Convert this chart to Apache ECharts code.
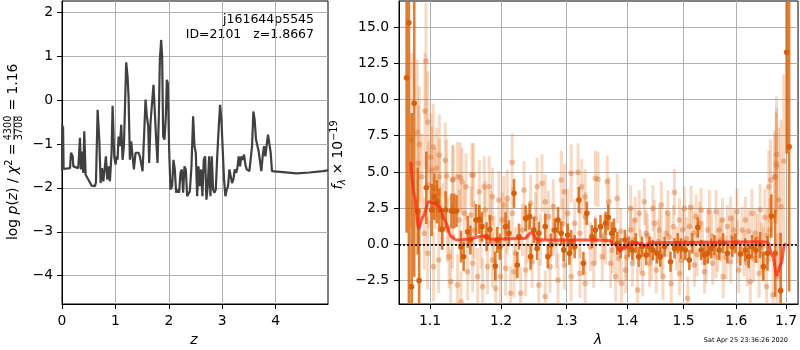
<!DOCTYPE html>
<html>
<head>
<meta charset="utf-8">
<script src="https://cdn.jsdelivr.net/npm/echarts@6/dist/echarts.min.js"></script>
<style>
html, body { margin: 0; padding: 0; background: #fff; }
#chart { width: 800px; height: 350px; }
</style>
</head>
<body>
<div id="chart"></div>
<script>
// left panel: log p(z)
var zGrid = [0.000, 0.005, 0.012, 0.020, 0.030, 0.056, 0.15, 0.168, 0.20, 0.212,
  0.243, 0.305, 0.336, 0.355, 0.374, 0.399, 0.417, 0.442, 0.492, 0.555,
  0.617, 0.636, 0.667, 0.698, 0.723, 0.748, 0.773, 0.798, 0.822, 0.847,
  0.872, 0.897, 0.928, 0.947, 0.978, 1.003, 1.022, 1.040, 1.059, 1.084,
  1.109, 1.134, 1.159, 1.202, 1.227, 1.246, 1.271, 1.296, 1.321, 1.346,
  1.377, 1.408, 1.433, 1.458, 1.483, 1.508, 1.539, 1.564, 1.589, 1.614,
  1.632, 1.657, 1.688, 1.713, 1.738, 1.763, 1.788, 1.813, 1.832, 1.857,
  1.875, 1.894, 1.919, 1.944, 1.963, 1.981, 2.006, 2.031, 2.062, 2.087,
  2.112, 2.137, 2.162, 2.193, 2.218, 2.243, 2.268, 2.293, 2.318, 2.343,
  2.368, 2.393, 2.424, 2.455, 2.480, 2.505, 2.530, 2.555, 2.579, 2.604,
  2.629, 2.654, 2.679, 2.704, 2.729, 2.754, 2.779, 2.804, 2.829, 2.854,
  2.879, 2.903, 2.935, 2.960, 2.984, 3.009, 3.034, 3.059, 3.084, 3.109,
  3.134, 3.159, 3.184, 3.209, 3.234, 3.259, 3.283, 3.308, 3.333, 3.358,
  3.383, 3.408, 3.433, 3.458, 3.508, 3.533, 3.558, 3.583, 3.607, 3.632,
  3.657, 3.682, 3.707, 3.732, 3.757, 3.782, 3.807, 3.832, 3.857, 3.882,
  3.907, 3.931, 4.137, 4.386, 4.636, 4.885, 4.98];
var logPz = [-1.60, -0.55, -1.58, -0.60, -1.57, -1.58, -1.55, -1.20, -1.28, -1.51,
  -1.55, -1.55, -0.86, -1.58, -1.17, -1.66, -0.71, -1.70, -1.81, -1.95,
  -1.96, -1.87, -0.22, -0.90, -1.89, -1.55, -1.85, -1.58, -1.28, -1.81,
  -1.51, -1.85, -1.20, -0.13, -1.28, -1.47, -1.28, -1.36, -0.83, -1.05,
  -0.56, -1.36, -1.05, 0.86, 0.54, 0.08, -1.36, -0.94, -1.28, -1.58,
  -1.20, -1.17, -1.20, -1.28, -1.24, -1.62, -0.75, 0.01, -0.37, -0.60,
  -1.43, -0.52, -0.56, 0.35, 0.31, -0.90, -1.43, -0.37, 0.92, 1.37,
  0.99, -0.83, -0.90, -0.37, 0.46, 0.39, -1.13, -2.04, -1.96, -1.36,
  -1.58, -2.11, -2.04, -2.11, -1.66, -1.58, -2.11, -1.51, -1.58, -2.19,
  -2.19, -2.08, -1.51, -0.37, -1.05, -1.20, -2.19, -1.51, -1.96, -1.58,
  -2.19, -1.36, -1.28, -2.27, -1.96, -1.28, -2.19, -1.28, -2.04, -2.11,
  -2.04, -1.36, -0.60, -0.11, -0.45, -1.13, -1.81, -2.19, -2.04, -1.96,
  -1.58, -1.55, -1.89, -1.81, -1.58, -1.66, -1.55, -1.28, -1.51, -1.28,
  -1.36, -1.24, -1.47, -1.58, -1.62, -1.58, -1.05, -0.26, -0.45, -0.90,
  -0.90, -1.17, -1.20, -1.62, -1.28, -1.05, -1.28, -1.02, -0.79, -0.79,
  -1.20, -1.62, -1.64, -1.67, -1.65, -1.62, -1.60];
var zTicks = [0, 1, 2, 3, 4];
var lpTicks = [-4, -3, -2, -1, 0, 1, 2];

// right panel: spectrum
var lamTicks = [1.1, 1.2, 1.3, 1.4, 1.5, 1.6, 1.7];
var fluxTicks = [-2.5, 0, 2.5, 5, 7.5, 10, 12.5, 15];

// faint (other PA) points
var lamFaint = [1.0946, 1.0933, 1.0969, 1.0831, 1.0857, 1.1044, 1.1013, 1.1126, 1.0844, 1.1207, 1.109, 1.1579, 1.2163, 1.1415, 1.1227, 1.1317, 1.3184, 1.0752,
  1.0889, 1.0978, 1.1024, 1.1071, 1.1127, 1.1307, 1.1377, 1.1439, 1.1495, 1.1599, 1.1684, 1.1755, 1.1825, 1.1873, 1.1967, 1.204, 1.209, 1.234, 1.244, 1.254, 1.2615, 1.2665, 1.279, 1.2915, 1.2965, 1.3073, 1.3242, 1.3298, 1.3466, 1.351,
  1.0969, 1.1047, 1.1118, 1.1259, 1.1283, 1.1377, 1.1425, 1.1519, 1.159, 1.166, 1.1731, 1.1802, 1.1873, 1.192, 1.199, 1.2065, 1.214, 1.219, 1.229, 1.2365, 1.2465, 1.2565, 1.2665, 1.274, 1.2865, 1.2965, 1.3073, 1.3213, 1.3298, 1.3438,
  1.0924, 1.1165, 1.1236, 1.1307, 1.1401, 1.1472, 1.1566, 1.1613, 1.1708, 1.1769, 1.1849, 1.1896, 1.2015, 1.209, 1.2165, 1.2215, 1.2315, 1.239, 1.2515, 1.259, 1.2715, 1.279, 1.284, 1.294, 1.3017, 1.3129, 1.3213, 1.3298, 1.3382, 1.3466,
  1.3663, 1.3691, 1.3831, 1.406, 1.4208, 1.4298, 1.4446, 1.4595, 1.4714, 1.4833, 1.4923, 1.5013, 1.5138, 1.5231, 1.5325, 1.5481, 1.5606, 1.5731, 1.5888, 1.6013, 1.6176, 1.6307, 1.6471, 1.6569, 1.6647, 1.6686, 1.6765, 1.6797, 1.6804, 1.6807, 1.6955, 1.6781, 1.685,
  1.3579, 1.3635, 1.3719, 1.3803, 1.386, 1.3904, 1.3972, 1.406, 1.4089, 1.4137, 1.4179, 1.4268, 1.4327, 1.4387, 1.4476, 1.4506, 1.4565, 1.4625, 1.4685, 1.4774,
  1.4815, 1.4923, 1.4982, 1.5075, 1.5106, 1.52, 1.5294, 1.5388, 1.545, 1.5544, 1.5606, 1.5669, 1.5744, 1.5825, 1.5888, 1.595, 1.6046, 1.6111, 1.6209, 1.6275,
  1.6373, 1.6451, 1.6536, 1.6601, 1.6667, 1.6732, 1.6817, 1.6895,
  1.361, 1.375, 1.389, 1.399, 1.411, 1.423, 1.435, 1.442, 1.454, 1.46, 1.474, 1.487, 1.496, 1.505, 1.518,
  1.525, 1.535, 1.542, 1.552, 1.564, 1.57, 1.58, 1.592, 1.602, 1.615, 1.624, 1.634, 1.642, 1.65, 1.662];
var fluxFaint = [12.66, 9.2, 8.45, 7.73, 6.9, 6.72, 6.03, 6.15, 5.59, 5.8, 5.25, 4.79, 5.66, 4.63, 4.72, 4.49, 4.97, 7.2,
  4.67, 4.1, 5.13, 3.86, 4.67, 4.44, 4.67, 4.33, 3.98, 4.78, 3.63, 3.98, 3.98, 3.29, 3.06, 2.72, 3.17, 3.75, 2.83, 3.98, 4.21, 2.94, 2.6, 4.44, 3.63, 4.9, 3.98, 3.29, 4.56, 4.49,
  -0.62, -1.54, -1.08, -0.85, -2.58, -2.8, -3.96, -1.89, -1.31, -2.23, -2.92, -1.54, -1.08, -3.04, -2.23, -1.66, -3.38, -1.89, -3.38, -1.77, -1.2, -2.81, -3.61, -1.54, -2.46, -1.43, -2.23, -2.0, -2.7, -1.31,
  0.76, 1.91, 0.99, 0.53, 1.68, 2.14, 2.02, 0.99, 0.3, 2.37, 1.79, 0.07, 1.68, 1.22, 2.14, -0.62, 0.99, 0.53, 1.79, 0.3, 1.91, 0.99, 0.07, 1.45, 2.14, 1.45, 0.76, 1.91, -0.16, 0.3,
  4.33, 2.94, 3.17, 2.48, 2.14, 2.94, 2.48, 2.72, 2.14, 3.59, 1.68, 2.48, 2.55, 1.91, 2.37, 2.25, 2.25, 1.68, 1.79, 2.25, 1.68, 2.14, 2.37, 1.86, 3.98, 4.44, 4.67, 5.59, 6.21, 5.39, 5.75, 4.63, 3.06,
  -0.85, 0.3, -1.31, -2.23, -0.97, -2.7, -1.77, 0.99, -1.31, 1.68, -3.15, -2.0, 0.76, -1.31, 1.45, -1.77, 0.99, -2.23, 0.76, -2.7,
  1.22, -2.0, 0.99, -3.73, 1.22, -1.43, 1.45, -1.89, 0.99, -1.31, -0.85, 0.99, -2.23, 1.22, -1.2, 0.99, -1.77, 0.99, -1.31, -2.58,
  0.76, -2.0, -0.62, -2.92, 0.99, -3.5, -2.23, 2.6,
  0.5, -0.4, 0.9, -0.9, 0.3, -0.5, 0.6, -1.0, 0.2, -0.6, 0.5, -0.3, -1.1, 0.4, 0.8,
  -0.7, 0.1, -1.2, 0.6, -0.4, 0.3, -0.9, 0.5, 0.2, -0.6, 0.9, -1.0, 0.4, -0.2, 0.6];
var errFaint = [4, 4, 3.5, 5, 4, 3, 3, 2.8, 4, 2.6, 2.8, 2.2, 2, 2.4, 2.5, 2.4, 2, 6,
  3, 3, 3, 2.8, 2.6, 2.4, 2.4, 2.3, 2.3, 2.2, 2.2, 2.1, 2.1, 2, 2, 2, 2, 2, 2, 2, 2, 1.9, 1.9, 2, 1.9, 2, 1.9, 1.9, 1.9, 1.9,
  2.5, 2.4, 2.3, 2.2, 2.2, 2.1, 2.1, 2, 2, 2, 2, 1.9, 1.9, 1.9, 1.9, 1.9, 1.9, 1.8, 1.8, 1.8, 1.8, 1.8, 1.8, 1.8, 1.8, 1.7, 1.7, 1.7, 1.7, 1.7,
  2.5, 2.3, 2.2, 2.2, 2.1, 2.1, 2, 2, 2, 2, 1.9, 1.9, 1.9, 1.9, 1.8, 1.8, 1.8, 1.8, 1.8, 1.8, 1.8, 1.8, 1.7, 1.7, 1.7, 1.7, 1.7, 1.7, 1.7, 1.7,
  1.8, 1.7, 1.7, 1.6, 1.6, 1.6, 1.6, 1.6, 1.6, 1.6, 1.5, 1.5, 1.5, 1.5, 1.5, 1.5, 1.5, 1.5, 1.5, 1.6, 1.6, 1.7, 1.8, 2, 2.5, 2.8, 3.2, 3.5, 4, 4, 6, 3, 5,
  1.7, 1.7, 1.7, 1.7, 1.7, 1.6, 1.6, 1.6, 1.6, 1.6, 1.6, 1.6, 1.6, 1.6, 1.6, 1.6, 1.6, 1.6, 1.6, 1.6,
  1.5, 1.5, 1.5, 1.5, 1.5, 1.5, 1.5, 1.5, 1.5, 1.5, 1.5, 1.5, 1.5, 1.5, 1.5, 1.5, 1.6, 1.6, 1.6, 1.6,
  1.7, 1.7, 1.8, 2, 2.2, 2.5, 3, 6,
  1.6, 1.6, 1.6, 1.6, 1.5, 1.5, 1.5, 1.5, 1.5, 1.5, 1.5, 1.5, 1.5, 1.5, 1.5,
  1.5, 1.5, 1.5, 1.5, 1.5, 1.5, 1.5, 1.5, 1.5, 1.6, 1.6, 1.6, 1.7, 1.7, 1.9];

// bold points
var lamDark = [1.069, 1.072, 1.0756, 1.079, 1.0855, 1.0836, 1.095, 1.1024, 1.1057, 1.1094,
  1.1127, 1.1165, 1.1212, 1.1292, 1.133, 1.1363, 1.1425, 1.1462, 1.1519, 1.1557,
  1.1637, 1.1684, 1.1722, 1.1788, 1.1835, 1.1915, 1.1943, 1.1981, 1.2065, 1.2115,
  1.219, 1.224, 1.2265, 1.2365, 1.2425, 1.244, 1.249, 1.254, 1.2565, 1.2665,
  1.2705, 1.2755, 1.2815, 1.2865, 1.2915, 1.2955, 1.3017, 1.3045, 1.3073, 1.3129,
  1.3197, 1.327, 1.3326, 1.341, 1.3466, 1.355, 1.3635, 1.368, 1.3736, 1.3775,
  1.3831, 1.3888, 1.3961, 1.403, 1.4089, 1.4149, 1.4196, 1.4256, 1.4327, 1.4387,
  1.4446, 1.4518, 1.4577, 1.4655, 1.4762, 1.4833, 1.4893, 1.4952, 1.5031, 1.5106,
  1.5156, 1.5263, 1.5325, 1.5388, 1.545, 1.5513, 1.5575, 1.5669, 1.5744, 1.5825,
  1.5919, 1.5981, 1.6078, 1.6176, 1.6242, 1.6307, 1.6386, 1.6471, 1.6536, 1.6621,
  1.6699, 1.6778, 1.689, 1.7015, 1.7066];
var fluxDark = [11.5, 15.3, -2.93, 9.74, -2.5, 2.30, 3.9, 2.37, 3.29, 2.94,
  2.37, 1.03, 2.37, 2.30, 2.30, 2.3, -0.16, -0.85, 0.87, 0.30,
  1.68, 1.72, 1.22, 0.53, 1.03, -1.50, 0.30, -0.16, 1.22, 0.76,
  3.52, -1.43, 0.53, 1.79, 1.91, -0.85, 0.99, -0.28, 0.76, 1.22,
  -0.85, -0.05, 0.99, 1.68, 0.76, -0.39, 0.64, -0.62, 0.18, -0.16,
  3.06, -1.31, 2.14, 0.53, 0.99, 1.22, 1.45, 1.86, 0.76, 0.99,
  0.07, -0.28, 0.30, -0.16, -0.39, 0.07, -0.85, -0.16, -0.74, -0.16,
  -0.39, -0.62, -0.85, -0.16, -1.20, -0.28, 0.07, -0.28, -0.39, -1.08,
  0.07, 1.17, -0.39, -0.74, -0.62, -0.28, -0.05, -0.39, 0.07, -0.62,
  -0.16, 0.07, -0.67, -0.39, -0.85, -0.16, -0.39, -0.05, -1.54, -0.62,
  1.95, -0.62, -3.2, 13.26, 6.74];
var errDark = [10.7, 20, 12, 12, 5, 3, 2.5, 1.8, 1.6, 1.5,
  1.5, 1.4, 1.3, 1.2, 1.2, 1.1, 1.1, 1.0, 1.1, 1.0,
  1.1, 1.0, 1.0, 1.0, 1.0, 1.0, 0.9, 0.9, 1.0, 0.9,
  1.0, 0.9, 0.9, 0.9, 0.9, 0.9, 0.9, 0.8, 0.8, 0.9,
  0.8, 0.8, 0.8, 0.9, 0.8, 0.8, 0.8, 0.8, 0.8, 0.8,
  0.9, 0.8, 0.8, 0.8, 0.8, 0.8, 0.8, 0.9, 0.8, 0.8,
  0.8, 0.7, 0.7, 0.7, 0.7, 0.7, 0.7, 0.7, 0.7, 0.7,
  0.7, 0.7, 0.7, 0.7, 0.7, 0.7, 0.7, 0.7, 0.7, 0.7,
  0.7, 0.7, 0.7, 0.7, 0.7, 0.7, 0.7, 0.7, 0.7, 0.7,
  0.7, 0.7, 0.8, 0.8, 0.8, 0.8, 0.9, 0.9, 1.0, 1.2,
  1.5, 3, 4, 7, 10];

// model
var lamModel = [1.0744, 1.0796, 1.0849, 1.0906, 1.0982, 1.1063, 1.1131, 1.1199, 1.129, 1.1359,
  1.1522, 1.1735, 1.1855, 1.2348, 1.2448, 1.2551, 1.345, 1.3704, 1.3788, 1.3873,
  1.3957, 1.4043, 1.4245, 1.4302, 1.439, 1.6525, 1.6626, 1.6728, 1.6811, 1.6901,
  1.697, 1.7];
var fluxModel = [5.7, 3.29, 1.1, 1.9, 2.94, 2.83, 2.6, 1.68, 0.53, 0.3,
  0.35, 0.57, 0.35, 0.41, 0.8, 0.3, 0.3, 0.25, 0.02, -0.46,
  -0.17, 0.11, 0.07, -0.12, 0.11, 0.18, 0.14, -0.86, -2.12, -1.31,
  -0.05, 0.07];

var FONT = 'DejaVu Sans';
var chart = echarts.init(document.getElementById('chart'));

function mpl(v) {
    return String(v).replace('-', '\u2212');
}

function axisParts(ticks, fmt, margin) {
    return {
        axisLine: { show: true, onZero: false, lineStyle: { color: '#000', width: 1 } },
        axisTick: { show: true, customValues: ticks, length: 5, lineStyle: { color: '#000', width: 1 } },
        axisLabel: { customValues: ticks, formatter: fmt, margin: margin, color: '#000',
            fontFamily: FONT, fontSize: 13.9 },
        splitLine: { show: true, lineStyle: { color: '#b0b0b0', width: 1 } }
    };
}

function errBars(barColor, dotColor, barWidth, r) {
    return function (params, api) {
        var x = api.value(0), y = api.value(1), e = api.value(2);
        var hi = api.coord([x, y + e]);
        var lo = api.coord([x, y - e]);
        var c = api.coord([x, y]);
        return {
            type: 'group',
            children: [
                { type: 'line', shape: { x1: c[0], y1: hi[1], x2: c[0], y2: lo[1] },
                  style: { stroke: barColor, lineWidth: barWidth } },
                { type: 'circle', shape: { cx: c[0], cy: c[1], r: r }, style: { fill: dotColor } }
            ]
        };
    };
}

function txt(x, y, text, size, align, extra) {
    var style = { text: text, fill: '#000', fontFamily: FONT, fontSize: size,
        align: align, textAlign: align, verticalAlign: 'middle', textVerticalAlign: 'middle' };
    for (var k in (extra || {})) style[k] = extra[k];
    return { type: 'text', x: x, y: y, style: style };
}

var richBase = {
    n: { fontFamily: FONT, fontSize: 13.9, lineHeight: 18, verticalAlign: 'middle' },
    i: { fontFamily: FONT, fontSize: 13.9, fontStyle: 'italic', lineHeight: 18, verticalAlign: 'middle' },
    sup: { fontFamily: FONT, fontSize: 9.7, lineHeight: 18, verticalAlign: 'top' },
    sub: { fontFamily: FONT, fontSize: 9.7, fontStyle: 'italic', lineHeight: 18, verticalAlign: 'bottom' }
};

var option = {
    animation: false,
    backgroundColor: '#fff',
    grid: [
        { left: 62, top: 1, width: 266, height: 303, show: true, borderColor: '#000', borderWidth: 1 },
        { left: 399, top: 1, width: 400, height: 303, show: true, borderColor: '#000', borderWidth: 1 }
    ],
    xAxis: [
        Object.assign({ gridIndex: 0, type: 'value', min: 0, max: 4.98 },
            axisParts(zTicks, function (v) { return mpl(v); }, 10)),
        Object.assign({ gridIndex: 1, type: 'value', min: Math.log(1.0591), max: Math.log(1.7253) },
            axisParts(lamTicks.map(Math.log), function (v) { return Math.exp(v).toFixed(1); }, 10))
    ],
    yAxis: [
        Object.assign({ gridIndex: 0, type: 'value', min: -4.645, max: 2.257 },
            axisParts(lpTicks, function (v) { return mpl(v); }, 9)),
        Object.assign({ gridIndex: 1, type: 'value', min: -4.12, max: 16.8 },
            axisParts(fluxTicks, function (v) { return mpl(v.toFixed(1)); }, 10))
    ],
    series: [
        {
            type: 'line', xAxisIndex: 0, yAxisIndex: 0, showSymbol: false, symbol: 'none',
            data: zGrid.map(function (z, i) { return [z, logPz[i]]; }),
            lineStyle: { color: '#404040', width: 2.2 }
        },
        {
            type: 'custom', xAxisIndex: 1, yAxisIndex: 1, clip: true, encode: { x: 0, y: 1 },
            data: lamFaint.map(function (l, i) { return [Math.log(l), fluxFaint[i], errFaint[i]]; }),
            renderItem: errBars('rgba(230,120,40,0.28)', 'rgba(220,110,40,0.42)', 3, 2.8)
        },
        {
            type: 'custom', xAxisIndex: 1, yAxisIndex: 1, clip: true, encode: { x: 0, y: 1 },
            data: lamDark.map(function (l, i) { return [Math.log(l), fluxDark[i], errDark[i]]; }),
            renderItem: errBars('rgba(217,95,2,0.8)', '#d6600a', 2.6, 2.8)
        },
        {
            type: 'line', xAxisIndex: 1, yAxisIndex: 1, showSymbol: false, symbol: 'none',
            smooth: 0.35, smoothMonotone: 'x',
            data: lamModel.map(function (l, i) { return [Math.log(l), fluxModel[i]]; }),
            lineStyle: { color: 'rgba(250,40,20,0.75)', width: 3 },
            markLine: {
                silent: true, symbol: ['none', 'none'], label: { show: false },
                lineStyle: { color: '#000', type: [2, 2], width: 1.6 },
                data: [{ yAxis: 0 }]
            }
        }
    ],
    graphic: [
        txt(314, 20, 'j161644p5545', 12.5, 'right'),
        txt(314, 34.5, 'ID=2101   z=1.8667', 12.5, 'right'),
        txt(194, 340, 'z', 13.9, 'center', { fontStyle: 'italic' }),
        txt(598, 340, '\u03bb', 13.9, 'center', { fontStyle: 'italic' }),
        txt(788, 340, 'Sat Apr 25 23:36:26 2020', 6.5, 'right'),
        {
            type: 'text', x: 338, y: 155, rotation: Math.PI / 2,
            style: { text: '{i|f}{sub|\u03bb}{n| \u00d7 10}{sup|\u221219}', rich: richBase,
                align: 'center', textAlign: 'center', verticalAlign: 'middle', textVerticalAlign: 'middle' }
        },
        {
            type: 'group', x: 13.5, y: 240, rotation: Math.PI / 2,
            children: [
                { type: 'text', x: 0, y: 0,
                  style: { text: '{n|log }{i|p}{n|(}{i|z}{n|) / }{i|\u03c7}{sup|2}{n| = }', rich: richBase,
                      align: 'left', textAlign: 'left', verticalAlign: 'middle', textVerticalAlign: 'middle' } },
                txt(112, -4.8, '4300', 9.7, 'center'),
                { type: 'line', shape: { x1: 100, y1: 0.5, x2: 124, y2: 0.5 }, style: { stroke: '#000', lineWidth: 0.8 } },
                txt(112, 5.6, '3708', 9.7, 'center'),
                txt(125, 0, ' = 1.16', 13.9, 'left')
            ]
        }
    ]
};

chart.setOption(option);
</script>
</body>
</html>
